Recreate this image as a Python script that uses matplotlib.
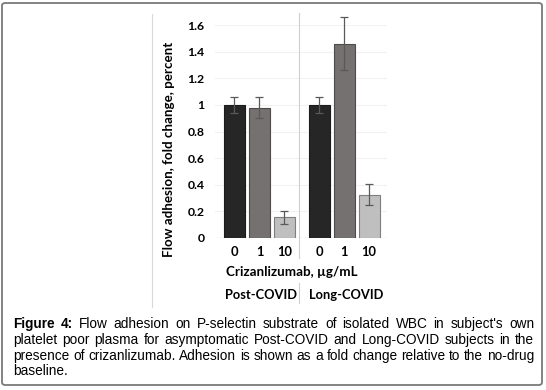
import matplotlib
matplotlib.use('Agg')
import matplotlib.pyplot as plt
from matplotlib.patches import FancyBboxPatch
from matplotlib.lines import Line2D
from matplotlib.transforms import blended_transform_factory

groups = ['Post-COVID', 'Long-COVID']
doses = ['0', '1', '10']
post_vals = [1.00, 0.98, 0.155]
post_err = [0.06, 0.08, 0.05]
long_vals = [1.00, 1.46, 0.325]
long_err = [0.06, 0.20, 0.08]
bar_colors = ['#262626', '#767171', '#bfbfbf']
edge_colors = ['#1a1a1a', '#4f4b4b', '#7f7f7f']
yticks = [0, 0.2, 0.4, 0.6, 0.8, 1.0, 1.2, 1.4, 1.6]

caption_lines = [
    "Figure 4: Flow adhesion on P-selectin substrate of isolated WBC in subject's own",
    "platelet poor plasma for asymptomatic Post-COVID and Long-COVID subjects in the",
    "presence of crizanlizumab. Adhesion is shown as a fold change relative to the no-drug",
    "baseline.",
]

W, H = 546, 390
fig = plt.figure(figsize=(W / 100, H / 100), dpi=100)

# outer rounded frame
frame = FancyBboxPatch((2 / W, 5 / H), 540 / W, 382 / H,
                       boxstyle='round,pad=0,rounding_size=0.006',
                       transform=fig.transFigure, fill=False,
                       edgecolor='#7a7a7a', linewidth=1.3)
fig.patches.append(frame)
# faint left edge of the embedded chart image
fig.lines.append(Line2D([152 / W, 152 / W], [1 - 14 / H, 1 - 307 / H],
                        transform=fig.transFigure, color='#d9d9d9', lw=0.8))

ax = fig.add_axes([215 / W, (H - 238) / H, 172 / W, 213 / H])
pos1 = [0, 1, 2]
pos2 = [3.4, 4.4, 5.4]
for pos, vals, errs in [(pos1, post_vals, post_err), (pos2, long_vals, long_err)]:
    ax.bar(pos, vals, width=0.84, color=bar_colors, edgecolor=edge_colors,
           linewidth=0.8, zorder=2)
    ax.errorbar(pos, vals, yerr=errs, fmt='none', ecolor='#595959',
                elinewidth=0.9, capsize=2.6, capthick=0.9, zorder=3, clip_on=False)

ax.set_xlim(-0.78, 6.12)
ax.set_ylim(0, 1.6)
ax.set_yticks(yticks)
ax.set_yticklabels(['{:g}'.format(v) for v in yticks])
ax.set_xticks(pos1 + pos2)
ax.set_xticklabels(doses + doses)
ax.tick_params(length=0)
ax.tick_params(axis='y', pad=7.5)
ax.tick_params(axis='x', pad=5.5)
for lab in ax.get_yticklabels():
    lab.set_fontfamily('Lato')
    lab.set_fontweight('bold')
    lab.set_fontsize(8.8)
for lab in ax.get_xticklabels():
    lab.set_fontfamily('Lato')
    lab.set_fontweight('bold')
    lab.set_fontsize(9.3)
for s in ax.spines.values():
    s.set_visible(False)
ax.grid(axis='y', color='#f2f2f2', lw=0.8, zorder=0)
ax.axhline(0, color='#d9d9d9', lw=0.9, zorder=1)

trans = blended_transform_factory(ax.transData, ax.transAxes)
ax.add_line(Line2D([2.6, 2.6], [1.056, -0.095], transform=trans,
                   color='#cfcfcf', lw=0.8, clip_on=False))
ax.add_line(Line2D([2.6, 2.6], [-0.212, -0.305], transform=trans,
                   color='#cfcfcf', lw=0.8, clip_on=False))
ax.text(1.05, -0.268, groups[0], transform=trans, ha='center', va='center',
        fontfamily='Lato', fontweight='bold', fontsize=9.3)
ax.text(4.5, -0.268, groups[1], transform=trans, ha='center', va='center',
        fontfamily='Lato', fontweight='bold', fontsize=9.3)
fig.text(292 / W, 1 - 272 / H, 'Crizanlizumab, µg/mL', ha='center', va='center',
         fontfamily='Lato', fontweight='bold', fontsize=9.6)
fig.text(169 / W, 1 - 149 / H, 'Flow adhesion, fold change, percent', rotation=90,
         ha='center', va='center', fontfamily='Lato', fontweight='bold', fontsize=9.6)

# justified caption
renderer = fig.canvas.get_renderer()
x0, x1 = 13, 534
line_y = [324, 340, 356, 371]
cap_font = dict(fontfamily='Liberation Sans', fontsize=9.8, va='center', ha='left')
space_t = fig.text(0, 0, 'a a', **cap_font)
aa_t = fig.text(0, 0, 'aa', **cap_font)
space_w = (space_t.get_window_extent(renderer).width
           - aa_t.get_window_extent(renderer).width)
space_t.remove()
aa_t.remove()
for i, line in enumerate(caption_lines):
    words = line.split(' ')
    texts = []
    for j, w in enumerate(words):
        weight = 'bold' if (i == 0 and j < 2) else 'normal'
        texts.append(fig.text(0, 1 - line_y[i] / H, w, fontweight=weight, **cap_font))
    widths = [t.get_window_extent(renderer).width for t in texts]
    if i < len(caption_lines) - 1 and len(words) > 1:
        gap = (x1 - x0 - sum(widths)) / (len(words) - 1)
    else:
        gap = space_w
    x = x0
    for t, w in zip(texts, widths):
        t.set_x(x / W)
        x += w + gap

fig.savefig('out.png', dpi=100)
